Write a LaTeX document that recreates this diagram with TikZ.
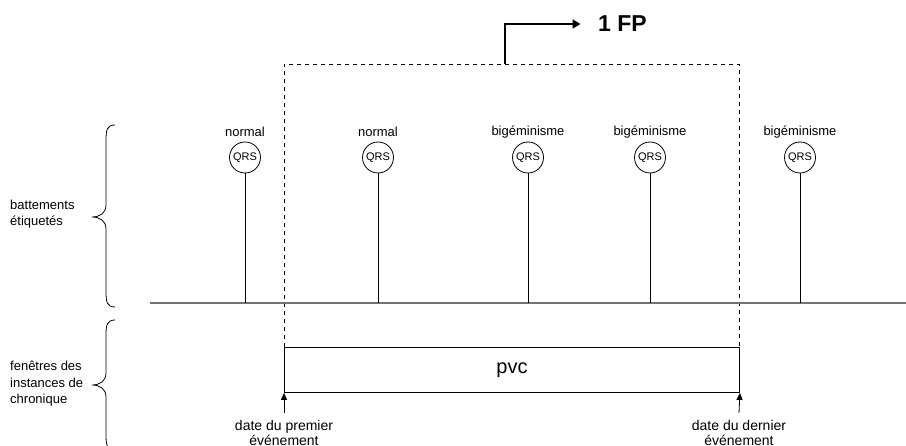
\documentclass[tikz,border=0pt]{standalone}
\usepackage{fontspec}
\setmainfont{Liberation Sans}
\usetikzlibrary{arrows.meta,calc}
\begin{document}
\begin{tikzpicture}[x=1pt,y=-1pt,
  lbl/.style={font=\fontsize{13}{16}\selectfont, inner sep=0pt},
  sidelbl/.style={font=\fontsize{13}{16.5}\selectfont, inner sep=0pt, align=left, anchor=west},
  qrs/.style={circle, draw, line width=0.8pt, minimum size=31pt, inner sep=0pt, font=\fontsize{11}{12}\selectfont},
  stem/.style={line width=0.8pt},
  timeline/.style={line width=1.6pt, draw=black!55},
  win/.style={draw, dashed, dash pattern=on 4pt off 4pt, line width=0.8pt, inner sep=0pt, anchor=north west},
  chron/.style={draw, line width=0.9pt, inner sep=0pt, anchor=north west, font=\fontsize{20}{24}\selectfont},
  datelbl/.style={font=\fontsize{14}{15}\selectfont, align=center, anchor=north, inner sep=0pt},
  datearrow/.style={line width=0.8pt, -{Triangle[length=7pt,width=6pt]}},
  fparrow/.style={line width=2pt, -{Triangle[length=8pt,width=9pt]}},
  bracepath/.style={line width=0.8pt}
]
\useasboundingbox (0,0) rectangle (906,446);
\clip (0,0) rectangle (906,446);

% timeline
\coordinate (tl0) at (150,303);
\coordinate (tl1) at (906,303);

% dashed window and chronicle box
\node[win, minimum width=455pt, minimum height=283pt] (win) at (284,64) {};
\node[chron, minimum width=455pt, minimum height=45pt] (pvc) at (284,347) {pvc};

\draw[timeline] (tl0) -- (tl1);

% beats
\foreach \x/\t/\n in {245/normal/b1, 378/normal/b2, 528/bigéminisme/b3, 650/bigéminisme/b4, 800/bigéminisme/b5}{
  \node[qrs] (\n) at (\x,157.5) {QRS};
  \node[lbl] (\n l) at (\x,132) {\t};
  \draw[stem] (\n.south) -- (\n.south |- tl0);
}

% 1 FP
\node[font=\bfseries\fontsize{23}{27}\selectfont, anchor=west, inner sep=0pt] (fp) at (598,24) {1 FP};
\draw[fparrow] ([xshift=-6.5pt]win.north) |- ([xshift=-17.5pt]fp.west);

% date labels
\node[datelbl] (d1) at (284,420) {date du premier\\événement};
\node[datelbl] (d2) at (739,420) {date du dernier\\événement};
\draw[datearrow] ([yshift=7pt]d1.north) -- (pvc.south west);
\draw[datearrow] ([yshift=7pt]d2.north) -- (pvc.south east);

% braces
\draw[bracepath] (115,125) .. controls (107,125) and (106,130) .. (106,140) -- (106,205)
  .. controls (106,213) and (100,217) .. (92,217)
  .. controls (100,217) and (106,221) .. (106,229) -- (106,292)
  .. controls (106,302) and (107,307) .. (115,307);
\draw[bracepath] (115,320) .. controls (107,320) and (106,325) .. (106,335) -- (106,373)
  .. controls (106,381) and (100,385) .. (92,385)
  .. controls (100,385) and (106,389) .. (106,397) -- (106,435)
  .. controls (106,445) and (107,450) .. (115,450);

% side labels
\node[sidelbl] (s1) at (10,214) {battements\\étiquetés};
\node[sidelbl] (s2) at (10,384) {fenêtres des\\instances de\\chronique};
\end{tikzpicture}
\end{document}
